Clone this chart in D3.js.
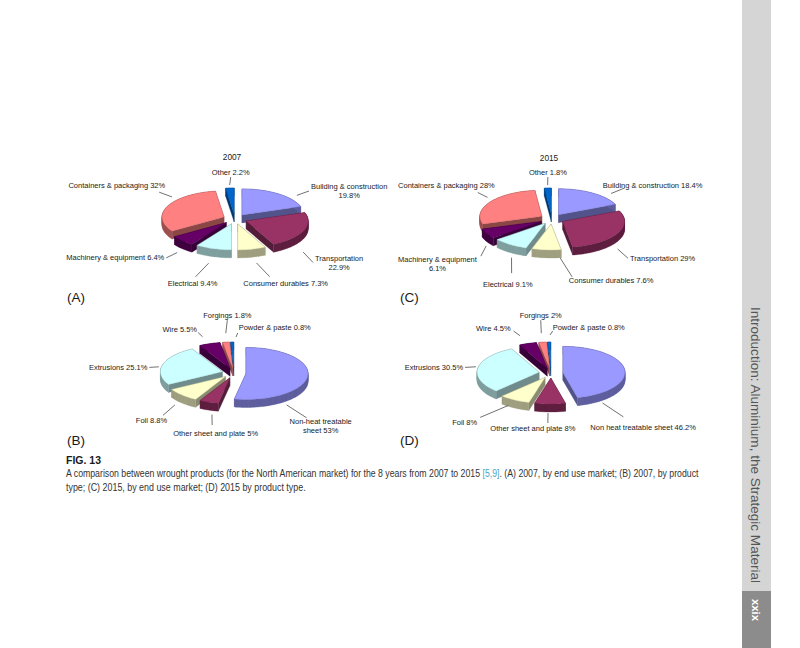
<!DOCTYPE html>
<html>
<head>
<meta charset="utf-8">
<script src="https://cdn.jsdelivr.net/npm/d3@7"></script>
<style>
  body { margin: 0; background: #fff; }
  svg { display: block; }
  text { font-family: "Liberation Sans", Arial, sans-serif; }
</style>
</head>
<body>
<svg id="fig" width="800" height="648"></svg>
<script>
// data (percent shares)
const endUseCategories = ["Building & construction", "Transportation", "Consumer durables", "Electrical", "Machinery & equipment", "Containers & packaging", "Other"]
const endUse2007 = [19.8, 22.9, 7.3, 9.4, 6.4, 32, 2.2]
const endUse2015 = [18.4, 29, 7.6, 9.1, 6.1, 28, 1.8]

const productCategories2007 = ["Non-heat treatable sheet", "Other sheet and plate", "Foil", "Extrusions", "Wire", "Forgings", "Powder & paste"]
const productCategories2015 = ["Non heat treatable sheet", "Other sheet and plate", "Foil", "Extrusions", "Wire", "Forgings", "Powder & paste"]
const product2007 = [53, 5, 8.8, 25.1, 5.5, 1.8, 0.8]
const product2015 = [46.2, 8, 8, 30.5, 4.5, 2, 0.8]

const sliceColors = ["#9999FF", "#993366", "#FFFFCC", "#CCFFFF", "#660066", "#FF8080", "#0066CC"]

// layout; label tweaks: s = leader start, e = leader end, t = text (offsets from the computed spot)
const panels = [
  { title: "2007", letter: "(A)", cats: endUseCategories, values: endUse2007, cx: 235, cy: 219, titleY: 160, letterX: 67, letterY: 302,
    breaks: { "Building & construction": 3, "Transportation": 1 },
    tweak: {
      "Building & construction": { s: [17, 4], e: [21, 7] },
      "Transportation": { s: [-3, 17], e: [-6, 24] },
      "Consumer durables": { s: [4, 3], e: [14, 8], t: [16, 2] },
      "Electrical": { s: [-4, 4], e: [-13, 9], t: [-3, 2] },
      "Machinery & equipment": { s: [-3, 4], e: [-4, 3] },
      "Containers & packaging": { s: [7, -8], e: [7, -9], t: [8, -7] },
      "Other": { e: [2, 1] },
    } },
  { title: "2015", letter: "(C)", cats: endUseCategories, values: endUse2015, cx: 552, cy: 219, titleY: 161, letterX: 400, letterY: 302,
    breaks: { "Machinery & equipment": 3 },
    tweak: {
      "Building & construction": { s: [17, 3], e: [23, 5], t: [-24, -3] },
      "Transportation": { s: [-2, 10], e: [-4, 15] },
      "Consumer durables": { s: [14, -3], e: [27, 7], t: [39, -1] },
      "Electrical": { s: [3, 4], e: [11, 12], t: [23, 11] },
      "Machinery & equipment": { s: [2, 7], e: [9, 13], t: [-2, 8] },
      "Containers & packaging": { s: [0, -3], e: [2, -3], t: [19, -7] },
      "Other": { e: [1, 1] },
    } },
  { title: null, letter: "(B)", cats: productCategories2007, values: product2007, cx: 234, cy: 373, letterX: 67, letterY: 445,
    breaks: { "Non-heat treatable sheet": 2 },
    tweak: {
      "Non-heat treatable sheet": { s: [-24, 28], e: [-18, 40], t: [-19, 8] },
      "Other sheet and plate": { s: [4, 2], e: [9, 4], t: [48, 8] },
      "Foil": { s: [-5, 2], e: [-7, 6], t: [6, 5] },
      "Extrusions": { s: [-1, 3], e: [3, 6] },
      "Wire": { s: [-6, -4], e: [-6, 0], t: [1, -3] },
      "Forgings": { s: [0, -6], e: [3, -10] },
      "Powder & paste": { s: [4, -2], e: [6, 3], t: [37, 0] },
    } },
  { title: null, letter: "(D)", cats: productCategories2015, values: product2015, cx: 551, cy: 373, letterX: 400, letterY: 445,
    breaks: {},
    tweak: {
      "Non heat treatable sheet": { s: [-25, 34], e: [-18, 49], t: [-35, 11] },
      "Other sheet and plate": { s: [-2, -2], e: [-2, -1], t: [-15, 0] },
      "Foil": { s: [-5, -4], e: [-26, 0], t: [-1, 5] },
      "Extrusions": { s: [1, -1], e: [4, 1] },
      "Wire": { s: [-7, -5], e: [-9, -1], t: [-1, -3] },
      "Forgings": { s: [-1, -6], e: [0, -10] },
      "Powder & paste": { s: [1, -4], e: [4, 1], t: [36, 2] },
    } },
]

const rx = 62, ry = 26, depth = 8, explode = 12
const tilt = ry / rx
const fontSize = 7.5, lineH = 8.8

const svg = d3.select("#fig")

// right-hand page strip
svg.append("rect").attr("x", 742).attr("y", 0).attr("width", 29).attr("height", 591).attr("fill", "#d5d5d5")
svg.append("rect").attr("x", 742).attr("y", 591).attr("width", 29).attr("height", 57).attr("fill", "#8c8c8c")
svg.append("text")
  .attr("transform", "translate(751,307) rotate(90)")
  .attr("font-family", "Lato, 'Open Sans', sans-serif")
  .attr("font-weight", 300)
  .attr("font-size", 12.5)
  .attr("fill", "#555")
  .attr("textLength", 276)
  .attr("lengthAdjust", "spacingAndGlyphs")
  .text("Introduction: Aluminium, the Strategic Material")
svg.append("text")
  .attr("transform", "translate(752,599) rotate(90)")
  .attr("font-weight", "bold")
  .attr("font-size", 11.5)
  .attr("fill", "#fff")
  .attr("textLength", 22)
  .attr("lengthAdjust", "spacingAndGlyphs")
  .text("xxix")

const pie = d3.pie().sort(null).value((d) => d.value)

const rim = (a, ox, oy) => [ox + rx * Math.sin(a), oy - ry * Math.cos(a)]

const toPath = (pts) => "M" + pts.map((p) => p[0].toFixed(2) + "," + p[1].toFixed(2)).join("L") + "Z"

function drawPanel(panel) {
  const data = panel.cats.map((c, i) => ({ name: c, value: panel.values[i], color: sliceColors[i] }))
  const arcs = pie(data)
  arcs.forEach((d) => {
    d.mid = (d.startAngle + d.endAngle) / 2
    d.ox = explode * Math.sin(d.mid)
    d.oy = -explode * Math.cos(d.mid) * tilt
  })

  const g = svg.append("g").attr("transform", `translate(${panel.cx},${panel.cy})`)

  // back slices first
  const ordered = arcs.slice().sort((a, b) => -Math.cos(a.mid) + Math.cos(b.mid))

  ordered.forEach((d) => {
    const n = Math.max(2, Math.ceil((d.endAngle - d.startAngle) / 0.03))
    const angles = d3.range(n + 1).map((i) => d.startAngle + ((d.endAngle - d.startAngle) * i) / n)
    const tip = [d.ox, d.oy]
    const top = angles.map((a) => rim(a, d.ox, d.oy))

    const base = d3.color(d.data.color)
    const sideRim = base.darker(1.3).formatHex()
    const sideCut = base.darker(1.7).formatHex()

    // radial cut faces
    const cutFaces = [top[0], top[top.length - 1]].map((p) =>
      toPath([tip, p, [p[0], p[1] + depth], [tip[0], tip[1] + depth]]))
    g.append("path").attr("d", cutFaces.join("")).attr("fill", sideCut).attr("stroke", sideCut).attr("stroke-width", 0.3)

    // outer rim wall
    const rimFaces = []
    for (let i = 0; i < top.length - 1; i++) {
      const a = top[i], b = top[i + 1]
      rimFaces.push(toPath([a, b, [b[0], b[1] + depth], [a[0], a[1] + depth]]))
    }
    g.append("path").attr("d", rimFaces.join("")).attr("fill", sideRim).attr("stroke", sideRim).attr("stroke-width", 0.3)

    // top face
    g.append("path")
      .attr("d", toPath([tip, ...top]))
      .attr("fill", d.data.color)
      .attr("stroke", base.darker(0.7).formatHex())
      .attr("stroke-width", 0.4)
  })

  // labels with leader lines
  const lg = svg.append("g").attr("transform", `translate(${panel.cx},${panel.cy})`)
  arcs.forEach((d) => {
    const s = Math.sin(d.mid), c = Math.cos(d.mid)
    const dz = c < 0 ? depth * -c : 0
    const ax = d.ox, ay = d.oy + dz
    const tw = panel.tweak[d.data.name] || {}
    const ts = tw.s || [0, 0], te = tw.e || [0, 0], tt = tw.t || [0, 0]
    const p1 = [ax + (rx + 3) * s + ts[0], ay - (ry + 3) * c + ts[1]]
    const p2 = [ax + (rx + 17) * s + te[0], ay - (ry + 12) * c + te[1]]

    lg.append("line")
      .attr("x1", p1[0]).attr("y1", p1[1])
      .attr("x2", p2[0]).attr("y2", p2[1])
      .attr("stroke", "#333").attr("stroke-width", 0.7)

    const label = `${d.data.name} ${d.data.value}%`
    const words = label.split(" ")
    const br = panel.breaks[d.data.name]
    const lines = br ? [words.slice(0, br).join(" "), words.slice(br).join(" ")] : [label]

    const t = lg.append("text").attr("font-size", fontSize).attr("fill", "#1a1a1a").attr("text-anchor", "middle")
    const spans = lines.map((l) => t.append("tspan").text(l))
    const w = d3.max(spans, (sp) => sp.node().getComputedTextLength())

    const mode = s > 0.3 ? "start" : s < -0.3 ? "end" : "middle"
    const cxLabel = (mode === "start" ? p2[0] + 2 + w / 2 : mode === "end" ? p2[0] - 2 - w / 2 : p2[0]) + tt[0]
    let y0
    if (mode === "middle") {
      y0 = c > 0 ? p2[1] - 2.5 - (lines.length - 1) * lineH : p2[1] + 7.5
    } else {
      y0 = p2[1] + 2.6 - ((lines.length - 1) * lineH) / 2
    }
    y0 += tt[1]
    spans.forEach((sp, i) => sp.attr("x", cxLabel).attr("y", y0 + i * lineH))
  })

  if (panel.title) {
    svg.append("text")
      .attr("x", panel.cx - 3).attr("y", panel.titleY)
      .attr("text-anchor", "middle")
      .attr("font-size", 8.3).attr("fill", "#1a1a1a")
      .text(panel.title)
  }
  svg.append("text")
    .attr("x", panel.letterX).attr("y", panel.letterY)
    .attr("font-size", 13.5).attr("fill", "#1a1a1a")
    .text(panel.letter)
}

panels.forEach(drawPanel)

// caption
const capFont = "'Liberation Sans Narrow', 'Liberation Sans', sans-serif"
svg.append("text")
  .attr("x", 66).attr("y", 464)
  .attr("font-family", capFont)
  .attr("font-weight", "bold").attr("font-size", 10).attr("fill", "#1a1a1a")
  .attr("textLength", 35).attr("lengthAdjust", "spacingAndGlyphs")
  .text("FIG. 13")

// caption lines, squeezed horizontally to the printed width
function captionLine(y, width, pieces) {
  const t = svg.append("text")
    .attr("font-family", capFont).attr("font-size", 10).attr("fill", "#333")
  pieces.forEach((p) => t.append("tspan").attr("fill", p.color || null).text(p.text))
  const natural = t.node().getComputedTextLength()
  t.attr("transform", `translate(66,${y}) scale(${width / natural},1)`)
}

captionLine(477, 634, [
  { text: "A comparison between wrought products (for the North American market) for the 8 years from 2007 to 2015 " },
  { text: "[5,9]", color: "#4fa3bf" },
  { text: ". (A) 2007, by end use market; (B) 2007, by product" },
])
captionLine(491, 240, [
  { text: "type; (C) 2015, by end use market; (D) 2015 by product type." },
])
</script>
</body>
</html>
